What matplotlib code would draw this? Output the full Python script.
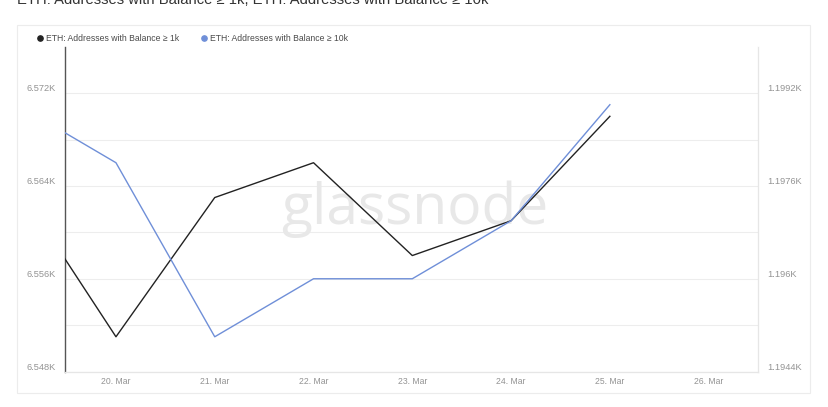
import pandas as pd
import matplotlib
matplotlib.use("Agg")
import matplotlib.pyplot as plt
import matplotlib.dates as mdates
from matplotlib.ticker import FixedLocator, FuncFormatter
from matplotlib.lines import Line2D
from matplotlib.patches import Rectangle

plt.rcParams['font.family'] = ['Liberation Sans', 'DejaVu Sans']

# daily values
dates = pd.date_range('2024-03-19', periods=7, freq='D')
bal_1k = [6564, 6551, 6563, 6566, 6558, 6561, 6570]
bal_10k = [1199.0, 1198.0, 1195.0, 1196.0, 1196.0, 1197.0, 1199.0]

LABEL_1K = "ETH: Addresses with Balance \u2265 1k"
LABEL_10K = "ETH: Addresses with Balance \u2265 10k"
TITLE = LABEL_1K + ", " + LABEL_10K

BLACK = '#222222'
BLUE = '#6f8fd8'
GRID = '#ededed'
TXT = '#939393'


def k_fmt(v, pos=None):
    s = f"{v / 1000:.4f}".rstrip('0').rstrip('.')
    return s + "K"


fig = plt.figure(figsize=(8.29, 4.07), dpi=100)
fig.patch.set_facecolor('white')

# outer panel
fig.patches.append(Rectangle((0.0205, 0.0344), 0.9566, 0.904, transform=fig.transFigure,
                             fill=False, edgecolor='#ececec', linewidth=0.8))

ax = fig.add_axes([0.0784, 0.0870, 0.9144 - 0.0784, 0.8853 - 0.0870])
ax2 = ax.twinx()

ax.plot(dates, bal_1k, color=BLACK, linewidth=1.0, zorder=3)
ax2.plot(dates, bal_10k, color=BLUE, linewidth=1.0, zorder=3)

ax.set_xlim(pd.Timestamp('2024-03-19') + pd.Timedelta(days=0.484),
            pd.Timestamp('2024-03-26 12:00'))
ax.set_ylim(6548, 6576)
ax2.set_ylim(1194.4, 1200.0)

ax.yaxis.set_major_locator(FixedLocator([6548, 6556, 6564, 6572]))
ax.yaxis.set_minor_locator(FixedLocator([6552, 6560, 6568]))
ax.yaxis.set_major_formatter(FuncFormatter(k_fmt))
ax2.yaxis.set_major_locator(FixedLocator([1194.4, 1196.0, 1197.6, 1199.2]))
ax2.yaxis.set_major_formatter(FuncFormatter(k_fmt))

ax.grid(True, axis='y', which='both', color=GRID, linewidth=0.8)
ax.set_axisbelow(True)

ax.xaxis.set_major_locator(mdates.DayLocator())
ax.xaxis.set_major_formatter(mdates.DateFormatter('%d. %b'))

ax.tick_params(axis='x', length=0, pad=4, labelsize=6.2, labelcolor=TXT)
ax.tick_params(axis='y', which='both', length=0, pad=7, labelsize=6.7, labelcolor=TXT)
ax2.tick_params(axis='y', length=0, pad=6.5, labelsize=6.7, labelcolor=TXT)
for lab in ax.get_yticklabels() + ax2.get_yticklabels():
    lab.set_verticalalignment('bottom')

for a in (ax, ax2):
    for s in a.spines.values():
        s.set_color('#e6e6e6')
        s.set_linewidth(0.8)
ax2.spines['left'].set_visible(False)
ax.spines['left'].set_color('#555555')
ax.spines['left'].set_linewidth(1.0)
ax.spines['top'].set_visible(False)
ax2.spines['top'].set_visible(False)

# watermark
ax.text(0.505, 0.5, "glassnode", transform=ax.transAxes, ha='center', va='center',
        fontsize=41, color='#e8e8e8', family=['Open Sans', 'DejaVu Sans'], zorder=1)

# legend
handles = [Line2D([], [], color=BLACK, marker='o', linestyle='none', markersize=3.8),
           Line2D([], [], color=BLUE, marker='o', linestyle='none', markersize=3.8)]
fig.legend(handles, [LABEL_1K, LABEL_10K], loc='center left', bbox_to_anchor=(0.041, 0.905),
           ncol=2, frameon=False, fontsize=6.2, labelcolor='#4a4a4a', handlelength=0.6,
           handletextpad=0.45, columnspacing=2.5, borderaxespad=0)

# title, cut off at top edge like the source
fig.text(0.0205, 1 - 4.5 / 407, TITLE, ha='left', va='baseline', fontsize=10.6, color='#333333')

fig.savefig('out.png', dpi=100)
